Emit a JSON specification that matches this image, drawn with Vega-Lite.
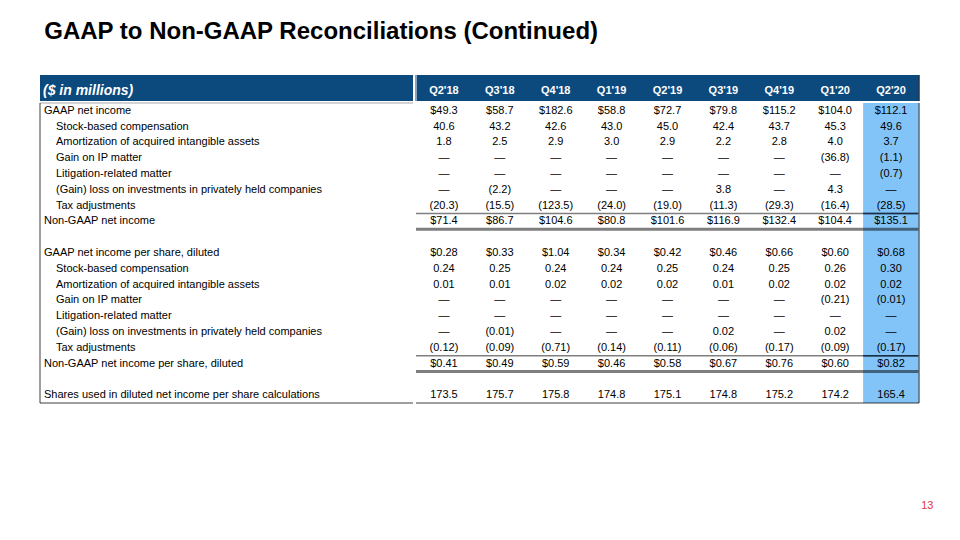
{
  "$schema": "https://vega.github.io/schema/vega-lite/v6.json",
  "background": "white",
  "padding": {"left": 39, "top": 20, "right": 10, "bottom": 10},
  "title": {"text": "GAAP to Non-GAAP Reconciliations (Continued)", "anchor": "start", "font": "Liberation Sans", "fontSize": 24, "fontWeight": "bold", "color": "#000000", "offset": 30, "dx": 5},
  "config": {
    "view": {"stroke": null},
    "text": {"font": "Liberation Sans", "fontSize": 11, "color": "#000000"},
    "title": {"font": "Liberation Sans"}
  },
  "datasets": {
    "lines": [
      {"r": 1, "label": "GAAP net income", "level": 0, "kind": "gaap", "unit": "m"},
      {"r": 2, "label": "Stock-based compensation", "level": 1, "kind": "item", "unit": "m"},
      {"r": 3, "label": "Amortization of acquired intangible assets", "level": 1, "kind": "item", "unit": "m"},
      {"r": 4, "label": "Gain on IP matter", "level": 1, "kind": "item", "unit": "m"},
      {"r": 5, "label": "Litigation-related matter", "level": 1, "kind": "item", "unit": "m"},
      {"r": 6, "label": "(Gain) loss on investments in privately held companies", "level": 1, "kind": "item", "unit": "m"},
      {"r": 7, "label": "Tax adjustments", "level": 1, "kind": "item", "unit": "m"},
      {"r": 8, "label": "Non-GAAP net income", "level": 0, "kind": "total", "unit": "m"},
      {"r": 10, "label": "GAAP net income per share, diluted", "level": 0, "kind": "gaap", "unit": "ps"},
      {"r": 11, "label": "Stock-based compensation", "level": 1, "kind": "item", "unit": "ps"},
      {"r": 12, "label": "Amortization of acquired intangible assets", "level": 1, "kind": "item", "unit": "ps"},
      {"r": 13, "label": "Gain on IP matter", "level": 1, "kind": "item", "unit": "ps"},
      {"r": 14, "label": "Litigation-related matter", "level": 1, "kind": "item", "unit": "ps"},
      {"r": 15, "label": "(Gain) loss on investments in privately held companies", "level": 1, "kind": "item", "unit": "ps"},
      {"r": 16, "label": "Tax adjustments", "level": 1, "kind": "item", "unit": "ps"},
      {"r": 17, "label": "Non-GAAP net income per share, diluted", "level": 0, "kind": "total", "unit": "ps"},
      {"r": 19, "label": "Shares used in diluted net income per share calculations", "level": 0, "kind": "shares", "unit": "sh"}
    ],
    "cells": [
      {"r":1,"q":"Q2'18","v":49.3},{"r":1,"q":"Q3'18","v":58.7},{"r":1,"q":"Q4'18","v":182.6},{"r":1,"q":"Q1'19","v":58.8},{"r":1,"q":"Q2'19","v":72.7},{"r":1,"q":"Q3'19","v":79.8},{"r":1,"q":"Q4'19","v":115.2},{"r":1,"q":"Q1'20","v":104.0},{"r":1,"q":"Q2'20","v":112.1},
      {"r":2,"q":"Q2'18","v":40.6},{"r":2,"q":"Q3'18","v":43.2},{"r":2,"q":"Q4'18","v":42.6},{"r":2,"q":"Q1'19","v":43.0},{"r":2,"q":"Q2'19","v":45.0},{"r":2,"q":"Q3'19","v":42.4},{"r":2,"q":"Q4'19","v":43.7},{"r":2,"q":"Q1'20","v":45.3},{"r":2,"q":"Q2'20","v":49.6},
      {"r":3,"q":"Q2'18","v":1.8},{"r":3,"q":"Q3'18","v":2.5},{"r":3,"q":"Q4'18","v":2.9},{"r":3,"q":"Q1'19","v":3.0},{"r":3,"q":"Q2'19","v":2.9},{"r":3,"q":"Q3'19","v":2.2},{"r":3,"q":"Q4'19","v":2.8},{"r":3,"q":"Q1'20","v":4.0},{"r":3,"q":"Q2'20","v":3.7},
      {"r":4,"q":"Q2'18","v":null},{"r":4,"q":"Q3'18","v":null},{"r":4,"q":"Q4'18","v":null},{"r":4,"q":"Q1'19","v":null},{"r":4,"q":"Q2'19","v":null},{"r":4,"q":"Q3'19","v":null},{"r":4,"q":"Q4'19","v":null},{"r":4,"q":"Q1'20","v":-36.8},{"r":4,"q":"Q2'20","v":-1.1},
      {"r":5,"q":"Q2'18","v":null},{"r":5,"q":"Q3'18","v":null},{"r":5,"q":"Q4'18","v":null},{"r":5,"q":"Q1'19","v":null},{"r":5,"q":"Q2'19","v":null},{"r":5,"q":"Q3'19","v":null},{"r":5,"q":"Q4'19","v":null},{"r":5,"q":"Q1'20","v":null},{"r":5,"q":"Q2'20","v":-0.7},
      {"r":6,"q":"Q2'18","v":null},{"r":6,"q":"Q3'18","v":-2.2},{"r":6,"q":"Q4'18","v":null},{"r":6,"q":"Q1'19","v":null},{"r":6,"q":"Q2'19","v":null},{"r":6,"q":"Q3'19","v":3.8},{"r":6,"q":"Q4'19","v":null},{"r":6,"q":"Q1'20","v":4.3},{"r":6,"q":"Q2'20","v":null},
      {"r":7,"q":"Q2'18","v":-20.3},{"r":7,"q":"Q3'18","v":-15.5},{"r":7,"q":"Q4'18","v":-123.5},{"r":7,"q":"Q1'19","v":-24.0},{"r":7,"q":"Q2'19","v":-19.0},{"r":7,"q":"Q3'19","v":-11.3},{"r":7,"q":"Q4'19","v":-29.3},{"r":7,"q":"Q1'20","v":-16.4},{"r":7,"q":"Q2'20","v":-28.5},
      {"r":8,"q":"Q2'18","v":71.4},{"r":8,"q":"Q3'18","v":86.7},{"r":8,"q":"Q4'18","v":104.6},{"r":8,"q":"Q1'19","v":80.8},{"r":8,"q":"Q2'19","v":101.6},{"r":8,"q":"Q3'19","v":116.9},{"r":8,"q":"Q4'19","v":132.4},{"r":8,"q":"Q1'20","v":104.4},{"r":8,"q":"Q2'20","v":135.1},
      {"r":10,"q":"Q2'18","v":0.28},{"r":10,"q":"Q3'18","v":0.33},{"r":10,"q":"Q4'18","v":1.04},{"r":10,"q":"Q1'19","v":0.34},{"r":10,"q":"Q2'19","v":0.42},{"r":10,"q":"Q3'19","v":0.46},{"r":10,"q":"Q4'19","v":0.66},{"r":10,"q":"Q1'20","v":0.60},{"r":10,"q":"Q2'20","v":0.68},
      {"r":11,"q":"Q2'18","v":0.24},{"r":11,"q":"Q3'18","v":0.25},{"r":11,"q":"Q4'18","v":0.24},{"r":11,"q":"Q1'19","v":0.24},{"r":11,"q":"Q2'19","v":0.25},{"r":11,"q":"Q3'19","v":0.24},{"r":11,"q":"Q4'19","v":0.25},{"r":11,"q":"Q1'20","v":0.26},{"r":11,"q":"Q2'20","v":0.30},
      {"r":12,"q":"Q2'18","v":0.01},{"r":12,"q":"Q3'18","v":0.01},{"r":12,"q":"Q4'18","v":0.02},{"r":12,"q":"Q1'19","v":0.02},{"r":12,"q":"Q2'19","v":0.02},{"r":12,"q":"Q3'19","v":0.01},{"r":12,"q":"Q4'19","v":0.02},{"r":12,"q":"Q1'20","v":0.02},{"r":12,"q":"Q2'20","v":0.02},
      {"r":13,"q":"Q2'18","v":null},{"r":13,"q":"Q3'18","v":null},{"r":13,"q":"Q4'18","v":null},{"r":13,"q":"Q1'19","v":null},{"r":13,"q":"Q2'19","v":null},{"r":13,"q":"Q3'19","v":null},{"r":13,"q":"Q4'19","v":null},{"r":13,"q":"Q1'20","v":-0.21},{"r":13,"q":"Q2'20","v":-0.01},
      {"r":14,"q":"Q2'18","v":null},{"r":14,"q":"Q3'18","v":null},{"r":14,"q":"Q4'18","v":null},{"r":14,"q":"Q1'19","v":null},{"r":14,"q":"Q2'19","v":null},{"r":14,"q":"Q3'19","v":null},{"r":14,"q":"Q4'19","v":null},{"r":14,"q":"Q1'20","v":null},{"r":14,"q":"Q2'20","v":null},
      {"r":15,"q":"Q2'18","v":null},{"r":15,"q":"Q3'18","v":-0.01},{"r":15,"q":"Q4'18","v":null},{"r":15,"q":"Q1'19","v":null},{"r":15,"q":"Q2'19","v":null},{"r":15,"q":"Q3'19","v":0.02},{"r":15,"q":"Q4'19","v":null},{"r":15,"q":"Q1'20","v":0.02},{"r":15,"q":"Q2'20","v":null},
      {"r":16,"q":"Q2'18","v":-0.12},{"r":16,"q":"Q3'18","v":-0.09},{"r":16,"q":"Q4'18","v":-0.71},{"r":16,"q":"Q1'19","v":-0.14},{"r":16,"q":"Q2'19","v":-0.11},{"r":16,"q":"Q3'19","v":-0.06},{"r":16,"q":"Q4'19","v":-0.17},{"r":16,"q":"Q1'20","v":-0.09},{"r":16,"q":"Q2'20","v":-0.17},
      {"r":17,"q":"Q2'18","v":0.41},{"r":17,"q":"Q3'18","v":0.49},{"r":17,"q":"Q4'18","v":0.59},{"r":17,"q":"Q1'19","v":0.46},{"r":17,"q":"Q2'19","v":0.58},{"r":17,"q":"Q3'19","v":0.67},{"r":17,"q":"Q4'19","v":0.76},{"r":17,"q":"Q1'20","v":0.60},{"r":17,"q":"Q2'20","v":0.82},
      {"r":19,"q":"Q2'18","v":173.5},{"r":19,"q":"Q3'18","v":175.7},{"r":19,"q":"Q4'18","v":175.8},{"r":19,"q":"Q1'19","v":174.8},{"r":19,"q":"Q2'19","v":175.1},{"r":19,"q":"Q3'19","v":174.8},{"r":19,"q":"Q4'19","v":175.2},{"r":19,"q":"Q1'20","v":174.2},{"r":19,"q":"Q2'20","v":165.4}
    ]
  },
  "columns": 2,
  "spacing": 0,
  "concat": [
    {
      "width": 373, "height": 26,
      "view": {"fill": "#0c497d", "stroke": null},
      "data": {"values": [{"h": "($ in millions)"}]},
      "mark": {"type": "text", "align": "left", "baseline": "middle", "dx": 3, "dy": 3, "fontSize": 14, "fontWeight": "bold", "fontStyle": "italic", "color": "#ffffff"},
      "encoding": {
        "x": {"datum": "label", "type": "nominal", "bandPosition": 0, "scale": {"type": "band", "paddingInner": 0, "paddingOuter": 0}, "axis": null},
        "text": {"field": "h"}
      }
    },
    {
      "width": 503, "height": 26,
      "view": {"fill": "#0c497d", "stroke": null},
      "layer": [
        {
          "data": {"name": "cells"},
          "transform": [{"filter": "datum.r === 1"}],
          "mark": {"type": "text", "fontWeight": "bold", "color": "#ffffff", "baseline": "middle", "dy": 3},
          "encoding": {
            "x": {"field": "q", "type": "nominal", "scale": {"type": "band", "domain": ["Q2'18","Q3'18","Q4'18","Q1'19","Q2'19","Q3'19","Q4'19","Q1'20","Q2'20"], "paddingInner": 0, "paddingOuter": 0}, "axis": null},
            "text": {"field": "q"}
          }
        },
        {
          "data": {"values": [{}]},
          "mark": {"type": "rule", "color": "#8aa2bc", "strokeWidth": 2},
          "encoding": {"x": {"datum": "Q2'18", "type": "nominal", "bandPosition": 0, "axis": null}}
        },
        {
          "data": {"values": [{}]},
          "mark": {"type": "rule", "color": "#22364c", "strokeWidth": 1.5},
          "encoding": {"x": {"datum": "Q2'20", "type": "nominal", "bandPosition": 1, "axis": null}}
        }
      ]
    },
    {
      "width": 373, "height": 300,
      "layer": [
        {
          "data": {"name": "lines"},
          "transform": [{"filter": "datum.level === 0"}],
          "mark": {"type": "text", "align": "left", "baseline": "middle", "dx": 4},
          "encoding": {
            "x": {"datum": "label", "type": "nominal", "bandPosition": 0, "scale": {"type": "band", "paddingInner": 0, "paddingOuter": 0}, "axis": null},
            "y": {"field": "r", "type": "ordinal", "scale": {"type": "band", "domain": [1,2,3,4,5,6,7,8,9,10,11,12,13,14,15,16,17,18,19], "paddingInner": 0, "paddingOuter": 0}, "axis": null},
            "text": {"field": "label"}
          }
        },
        {
          "data": {"name": "lines"},
          "transform": [{"filter": "datum.level === 1"}],
          "mark": {"type": "text", "align": "left", "baseline": "middle", "dx": 16},
          "encoding": {
            "x": {"datum": "label", "type": "nominal", "bandPosition": 0, "axis": null},
            "y": {"field": "r", "type": "ordinal", "axis": null},
            "text": {"field": "label"}
          }
        },
        {
          "data": {"values": [{}]},
          "mark": {"type": "rule", "color": "#000000", "opacity": 0.35, "strokeWidth": 1},
          "encoding": {"y": {"datum": 1, "type": "ordinal", "bandPosition": 0, "axis": null}}
        },
        {
          "data": {"values": [{}]},
          "mark": {"type": "rule", "color": "#000000", "opacity": 0.5, "strokeWidth": 1.5},
          "encoding": {"x": {"datum": "label", "type": "nominal", "bandPosition": 0, "axis": null}}
        },
        {
          "data": {"values": [{}]},
          "mark": {"type": "rule", "color": "#000000", "opacity": 0.5, "strokeWidth": 1.5},
          "encoding": {"y": {"datum": 19, "type": "ordinal", "bandPosition": 1, "axis": null}}
        }
      ]
    },
    {
      "width": 503, "height": 300,
      "title": {"text": "13", "orient": "bottom", "anchor": "end", "color": "#e03a3c", "fontSize": 11, "fontWeight": "normal", "font": "Liberation Sans", "offset": 96, "dx": 13},
      "data": {"name": "cells"},
      "transform": [{"lookup": "r", "from": {"data": {"name": "lines"}, "key": "r", "fields": ["kind", "unit"]}}],
      "layer": [
        {
          "data": {"values": [{}]},
          "mark": {"type": "rect", "color": "#82c4f8"},
          "encoding": {"x": {"datum": "Q2'20", "type": "nominal", "scale": {"type": "band", "domain": ["Q2'18","Q3'18","Q4'18","Q1'19","Q2'19","Q3'19","Q4'19","Q1'20","Q2'20"], "paddingInner": 0, "paddingOuter": 0}, "axis": null}}
        },
        {
          "transform": [{"filter": "datum.v === null"}],
          "mark": {"type": "text", "baseline": "middle"},
          "encoding": {
            "x": {"field": "q", "type": "nominal", "axis": null},
            "y": {"field": "r", "type": "ordinal", "scale": {"type": "band", "domain": [1,2,3,4,5,6,7,8,9,10,11,12,13,14,15,16,17,18,19], "paddingInner": 0, "paddingOuter": 0}, "axis": null},
            "text": {"value": "—"}
          }
        },
        {
          "transform": [{"filter": "datum.v !== null && datum.unit === 'm' && datum.kind !== 'item'"}],
          "mark": {"type": "text", "baseline": "middle"},
          "encoding": {"x": {"field": "q", "type": "nominal", "axis": null}, "y": {"field": "r", "type": "ordinal", "axis": null}, "text": {"field": "v", "type": "quantitative", "format": "($.1f"}}
        },
        {
          "transform": [{"filter": "datum.v !== null && datum.unit === 'm' && datum.kind === 'item'"}],
          "mark": {"type": "text", "baseline": "middle"},
          "encoding": {"x": {"field": "q", "type": "nominal", "axis": null}, "y": {"field": "r", "type": "ordinal", "axis": null}, "text": {"field": "v", "type": "quantitative", "format": "(.1f"}}
        },
        {
          "transform": [{"filter": "datum.v !== null && datum.unit === 'ps' && datum.kind !== 'item'"}],
          "mark": {"type": "text", "baseline": "middle"},
          "encoding": {"x": {"field": "q", "type": "nominal", "axis": null}, "y": {"field": "r", "type": "ordinal", "axis": null}, "text": {"field": "v", "type": "quantitative", "format": "($.2f"}}
        },
        {
          "transform": [{"filter": "datum.v !== null && datum.unit === 'ps' && datum.kind === 'item'"}],
          "mark": {"type": "text", "baseline": "middle"},
          "encoding": {"x": {"field": "q", "type": "nominal", "axis": null}, "y": {"field": "r", "type": "ordinal", "axis": null}, "text": {"field": "v", "type": "quantitative", "format": "(.2f"}}
        },
        {
          "transform": [{"filter": "datum.v !== null && datum.unit === 'sh'"}],
          "mark": {"type": "text", "baseline": "middle"},
          "encoding": {"x": {"field": "q", "type": "nominal", "axis": null}, "y": {"field": "r", "type": "ordinal", "axis": null}, "text": {"field": "v", "type": "quantitative", "format": ".1f"}}
        },
        {
          "data": {"name": "lines"},
          "transform": [{"filter": "datum.kind === 'total'"}],
          "mark": {"type": "rule", "color": "#000000", "opacity": 0.5, "strokeWidth": 1.5},
          "encoding": {"y": {"field": "r", "type": "ordinal", "bandPosition": 0, "axis": null}}
        },
        {
          "data": {"name": "lines"},
          "transform": [{"filter": "datum.kind === 'total'"}],
          "mark": {"type": "rule", "color": "#000000", "opacity": 0.5, "strokeWidth": 3},
          "encoding": {"y": {"field": "r", "type": "ordinal", "bandPosition": 1, "axis": null}}
        },
        {
          "data": {"name": "lines"},
          "transform": [{"filter": "datum.kind === 'total'"}],
          "mark": {"type": "rule", "color": "#1a2f47", "strokeWidth": 1.5},
          "encoding": {
            "x": {"datum": "Q2'20", "type": "nominal", "bandPosition": 0, "axis": null},
            "x2": {"datum": "Q2'20", "bandPosition": 1},
            "y": {"field": "r", "type": "ordinal", "bandPosition": 0, "axis": null}
          }
        },
        {
          "data": {"values": [{}]},
          "mark": {"type": "rule", "color": "#56687a", "strokeWidth": 1.5},
          "encoding": {"x": {"datum": "Q2'20", "type": "nominal", "bandPosition": 1, "axis": null}}
        },
        {
          "data": {"values": [{}]},
          "mark": {"type": "rule", "color": "#000000", "opacity": 0.5, "strokeWidth": 1.5},
          "encoding": {"y": {"datum": 19, "type": "ordinal", "bandPosition": 1, "axis": null}}
        }
      ]
    }
  ]
}
